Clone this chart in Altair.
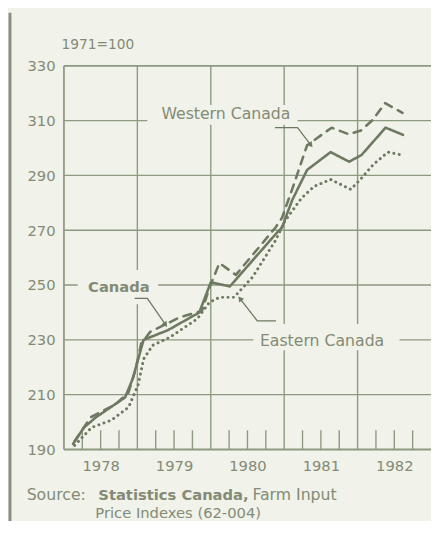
import altair as alt
import pandas as pd

# ---------------- data ----------------
year_labels = ["1978", "1979", "1980", "1981", "1982"]
y_ticks = [190, 210, 230, 250, 270, 290, 310, 330]

canada_dates = ["1978-02-15", "1978-04-10", "1978-06-10", "1978-11-01", "1978-12-10",
                "1979-01-05", "1979-02-01", "1979-06-01", "1979-11-05", "1980-01-01",
                "1980-04-05", "1980-11-20", "1980-12-20", "1981-02-10", "1981-04-25",
                "1981-08-20", "1981-11-20", "1982-01-20", "1982-05-20", "1982-08-15"]
canada_vals = [192, 198, 201.8, 209, 216,
               223, 230, 233.5, 240, 251,
               249.5, 268.7, 271, 281, 292,
               298.5, 295, 297.4, 307.4, 304.8]

western_dates = ["1978-02-23", "1978-05-15", "1978-09-15", "1978-11-18", "1978-12-25",
                 "1979-01-20", "1979-03-07", "1979-06-13", "1979-08-01", "1979-11-18",
                 "1979-12-25", "1980-02-13", "1980-05-05", "1980-11-18", "1980-12-20",
                 "1981-02-10", "1981-04-25", "1981-08-25", "1981-11-18", "1982-01-18",
                 "1982-03-18", "1982-05-18", "1982-08-12"]
western_vals = [193, 201.8, 206.5, 210.8, 219.7,
                228.7, 233, 236.5, 238.3, 240.5,
                249, 258, 253.7, 271, 274.5,
                285, 301, 307.4, 305, 306.4,
                310.3, 316.4, 312.8]

eastern_dates = ["1978-02-23", "1978-05-18", "1978-08-25", "1978-11-18", "1979-01-05",
                 "1979-02-01", "1979-03-18", "1979-06-13", "1979-10-25", "1979-12-25",
                 "1980-02-13", "1980-04-25", "1980-07-28", "1980-11-18", "1981-01-05",
                 "1981-03-28", "1981-05-30", "1981-08-20", "1981-11-28", "1982-01-18",
                 "1982-03-18", "1982-06-01", "1982-08-12"]
eastern_vals = [191.5, 198, 200.7, 205.4, 213.6,
                223, 228, 231, 237.6, 243.7,
                245.5, 245.5, 253, 266.3, 273.4,
                281.7, 286, 288.5, 284.9, 288.8,
                293.8, 298.5, 297.4]

# annotation labels (text, x in years, y in index points)
label_text = ["Western Canada", "Canada", "Eastern Canada"]
label_x = [1980.206, 1978.749, 1981.516]
label_y = [312.4, 249.1, 229.7]

# gaps cut into the grid behind the labels
gap_x1 = [1979.136, 1978.187, 1980.580]
gap_x2 = [1981.182, 1979.283, 1982.572]
gap_y1 = [308.5, 243.0, 226.2]
gap_y2 = [315.7, 255.5, 235.8]

# leader lines
leader_id = ["W", "W", "W", "C", "C", "C", "E", "E", "E"]
leader_x = [1980.874, 1981.182, 1981.356, 1978.963, 1979.136, 1979.377, 1980.888, 1980.634, 1980.406]
leader_y = [307.4, 307.4, 301.3, 245.1, 245.1, 235.8, 236.9, 236.9, 244.8]
arrow_x = [1981.356, 1979.377, 1980.406]
arrow_y = [301.3, 235.8, 244.8]
arrow_angle = [141, 145, 322]

quarter_ticks = [y + q for y in range(1978, 1983) for q in (0.25, 0.5, 0.75)]
year_lines = [1979, 1980, 1981, 1982]
h_grid = [210, 230, 250, 270, 290, 310]

# ---------------- styling ----------------
BG = "#f1f2e9"
INK = "#6d7961"
GRID = "#8e9982"
TXT = "#838b76"
FONT = "DejaVu Sans"


def dec(dates):
    d = pd.to_datetime(pd.Series(dates))
    return (d.dt.year + (d.dt.dayofyear - 1) / 365.0).tolist()


rows = []
for name, ds, vs in [("Canada", canada_dates, canada_vals),
                     ("Western Canada", western_dates, western_vals),
                     ("Eastern Canada", eastern_dates, eastern_vals)]:
    for xx, vv in zip(dec(ds), vs):
        rows.append({"series": name, "x": xx, "v": vv})
df = pd.DataFrame(rows)

XS = alt.Scale(domain=[1978, 1983], nice=False, zero=False)
YS = alt.Scale(domain=[190, 330], nice=False, zero=False)

x_axis = alt.Axis(values=[int(y) + 0.5 for y in year_labels], labelExpr="floor(datum.value)",
                  domain=False, ticks=False, grid=False, labelFontSize=15, labelPadding=9,
                  labelColor=TXT, labelFont=FONT, title=None, labelFlush=False)
y_axis = alt.Axis(values=y_ticks, domain=False, ticks=False, grid=False, labelFontSize=15,
                  labelPadding=9, labelColor=TXT, labelFont=FONT,
                  title="1971=100", titleAngle=0, titleX=-3, titleY=-22, titleAlign="left",
                  titleBaseline="middle", titleFontWeight="normal", titleFontSize=14,
                  titleColor=TXT, titleFont=FONT)


def X(field=None, **kw):
    if field is None:
        return alt.X(scale=XS, axis=x_axis, **kw)
    return alt.X(field, scale=XS, axis=x_axis, **kw)


def Y(field=None, **kw):
    if field is None:
        return alt.Y(scale=YS, axis=y_axis, **kw)
    return alt.Y(field, scale=YS, axis=y_axis, **kw)


one = pd.DataFrame({"a": [0]})

hgrid = alt.Chart(pd.DataFrame({"g": h_grid})).mark_rule(color=GRID, strokeWidth=1.4).encode(
    y=Y("g:Q"), x=alt.X(datum=1978, scale=XS, axis=x_axis), x2=alt.X2(datum=1983))
vgrid = alt.Chart(pd.DataFrame({"g": year_lines})).mark_rule(color=GRID, strokeWidth=1.4).encode(
    x=X("g:Q"), y=alt.Y(datum=190, scale=YS, axis=y_axis), y2=alt.Y2(datum=330))

frame_top = alt.Chart(one).mark_rule(color=GRID, strokeWidth=1.8).encode(
    y=alt.Y(datum=330, scale=YS, axis=y_axis), x=alt.X(datum=1978, scale=XS, axis=x_axis), x2=alt.X2(datum=1983))
frame_bottom = alt.Chart(one).mark_rule(color=GRID, strokeWidth=1.8).encode(
    y=alt.Y(datum=190, scale=YS, axis=y_axis), x=alt.X(datum=1978, scale=XS, axis=x_axis), x2=alt.X2(datum=1983))
frame_left = alt.Chart(one).mark_rule(color=GRID, strokeWidth=1.8).encode(
    x=alt.X(datum=1978, scale=XS, axis=x_axis), y=alt.Y(datum=190, scale=YS, axis=y_axis), y2=alt.Y2(datum=330))

qticks = alt.Chart(pd.DataFrame({"q": quarter_ticks})).mark_rule(color=GRID, strokeWidth=1.4).encode(
    x=X("q:Q"), y=alt.Y(datum=190, scale=YS, axis=y_axis), y2=alt.Y2(datum=197))

gaps = alt.Chart(pd.DataFrame({"x1": gap_x1, "x2": gap_x2, "y1": gap_y1, "y2": gap_y2})).mark_rect(
    fill=BG).encode(x=X("x1:Q"), x2="x2:Q", y=Y("y1:Q"), y2="y2:Q")

line_styles = {
    "Canada": dict(strokeDash=[1, 0], strokeWidth=2.6, strokeCap="round"),
    "Western Canada": dict(strokeDash=[8, 7], strokeWidth=2.6, strokeCap="round"),
    "Eastern Canada": dict(strokeDash=[0.1, 5.4], strokeWidth=3.0, strokeCap="round"),
}
series_layers = []
for name, st in line_styles.items():
    series_layers.append(
        alt.Chart(df).transform_filter(alt.datum.series == name).mark_line(
            color=INK, strokeJoin="round", **st).encode(x=X("x:Q"), y=Y("v:Q"), order="x:Q"))

leaders = alt.Chart(pd.DataFrame({"id": leader_id, "x": leader_x, "y": leader_y,
                                  "s": list(range(len(leader_id)))})).mark_line(
    color=INK, strokeWidth=1.3).encode(x=X("x:Q"), y=Y("y:Q"), detail="id:N", order="s:Q")
arrows = alt.Chart(pd.DataFrame({"x": arrow_x, "y": arrow_y, "a": arrow_angle})).mark_point(
    shape="triangle", filled=True, size=40, color=INK, opacity=1).encode(
    x=X("x:Q"), y=Y("y:Q"), angle=alt.Angle("a:Q", scale=None))

ldf = pd.DataFrame({"t": label_text, "x": label_x, "y": label_y})
labels_reg = alt.Chart(ldf).transform_filter(alt.datum.t != "Canada").mark_text(
    font=FONT, fontSize=16, color=TXT, align="center", baseline="middle").encode(
    x=X("x:Q"), y=Y("y:Q"), text="t:N")
labels_bold = alt.Chart(ldf).transform_filter(alt.datum.t == "Canada").mark_text(
    font=FONT, fontSize=15, fontWeight="bold", color=TXT, align="center", baseline="middle").encode(
    x=X("x:Q"), y=Y("y:Q"), text="t:N")


def ptext(txt, px, py, size, weight="normal"):
    return alt.Chart(one).mark_text(font=FONT, fontSize=size, fontWeight=weight, color=TXT,
                                    align="left", baseline="middle").encode(
        x=alt.value(px), y=alt.value(py), text=alt.value(txt))


src = [
    ptext("Source:", -38, 437, 16),
    ptext("Statistics Canada,", 35, 437, 15, "bold"),
    ptext("Farm  Input", 192, 437, 16),
    ptext("Price Indexes (62-004)", 32, 456, 15),
]

page_border = alt.Chart(one).mark_rule(color="#8b8d82", strokeWidth=3).encode(
    x=alt.value(-55), y=alt.value(-54), y2=alt.value(470))

chart = alt.layer(
    hgrid, vgrid, qticks, frame_top, frame_bottom, frame_left, gaps,
    *series_layers, leaders, arrows, labels_reg, labels_bold, *src, page_border
).properties(
    width=374, height=391,
    padding={"left": 57, "top": 54, "right": 0, "bottom": 68},
    autosize=alt.AutoSizeParams(type="none"),
).configure(background=BG).configure_view(stroke=None)

chart.save("out.html", embed_options={"renderer": "svg", "actions": False})
